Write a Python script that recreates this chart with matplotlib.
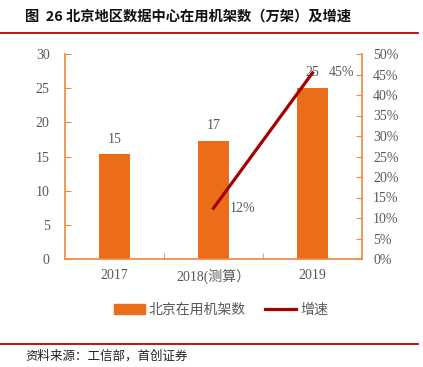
import matplotlib.pyplot as plt
from matplotlib.lines import Line2D
from matplotlib.patches import Patch

# data
years = ["2017", "2018(测算）", "2019"]
racks = [15.3, 17.3, 25.0]
rack_labels = ["15", "17", "25"]
growth = [None, 12.4, 45.4]
growth_labels = [None, "12%", "45%"]

orange = "#EC6D19"
spine = "#F0883E"
dark_red = "#A50000"
gray = "#595959"
serif = ["Liberation Serif", "Noto Sans CJK SC"]
cjk = ["Noto Sans CJK SC", "DejaVu Sans"]

fig = plt.figure(figsize=(4.23, 3.67), dpi=100)
ax = fig.add_axes([65 / 423, 1 - 259 / 367, 297 / 423, 205 / 367])
ax2 = ax.twinx()

x = list(range(len(years)))
ax.bar(x, racks, width=0.31, color=orange, zorder=2)
for xi, v, lab in zip(x, racks, rack_labels):
    ax.text(xi, v + 1.3, lab, ha="center", va="bottom", fontsize=10,
            color=gray, family=serif)

gx = [xi for xi, g in zip(x, growth) if g is not None]
gy = [g for g in growth if g is not None]
ax2.plot(gx, gy, color=dark_red, lw=2.3, zorder=3)
for xi, g, lab in zip(x, growth, growth_labels):
    if g is None:
        continue
    ax2.text(xi + 0.16, g, lab, ha="left", va="center", fontsize=10,
             color=gray, family=serif)

ax.set_xlim(-0.5, 2.5)
ax.set_ylim(0, 30)
ax2.set_ylim(0, 50)
ax.set_yticks(range(0, 31, 5))
ax2.set_yticks(range(0, 51, 5))
ax2.set_yticklabels([f"{t}%" for t in range(0, 51, 5)])
ax.set_xticks(x)
ax.set_xticklabels(years)
ax.set_xticks([0.5, 1.5], minor=True)

for a in (ax, ax2):
    for s in a.spines.values():
        s.set_visible(False)
    a.tick_params(colors=spine, labelcolor=gray, labelsize=10)
    for lab in a.get_yticklabels():
        lab.set_family(serif)
ax.spines["left"].set_visible(True)
ax.spines["bottom"].set_visible(True)
ax2.spines["right"].set_visible(True)
for s in (ax.spines["left"], ax.spines["bottom"], ax2.spines["right"]):
    s.set_color(spine)
    s.set_linewidth(1.2)

ax.tick_params(axis="y", direction="in", length=4, pad=11)
ax2.tick_params(axis="y", direction="in", length=4, pad=8)
ax.tick_params(axis="x", which="major", length=0, pad=7)
ax.tick_params(axis="x", which="minor", direction="in", length=4, color=spine)
for lab in ax.get_xticklabels():
    lab.set_family(serif)

# legend
handles = [Patch(color=orange, label="北京在用机架数"),
           Line2D([0], [0], color=dark_red, lw=2.3, label="增速")]
fig.legend(handles=handles, loc="center", bbox_to_anchor=(221 / 423, 1 - 310 / 367),
           ncol=2, frameon=False, prop={"family": cjk, "size": 10},
           labelcolor=gray, handlelength=2.2, columnspacing=1.4,
           handletextpad=0.3)

# title, rules and source
fig.text(25 / 423, 1 - 17 / 367, "图  26 北京地区数据中心在用机架数（万架）及增速",
         fontsize=10.3, family=cjk, weight="bold", color="#111111", va="center")
fig.add_artist(Line2D([0, 418 / 423], [1 - 33 / 367] * 2, color="#C00000", lw=1.3))
fig.add_artist(Line2D([0, 418 / 423], [1 - 344 / 367] * 2, color="#C00000", lw=1.3))
fig.text(25 / 423, 1 - 356 / 367, "资料来源：工信部，首创证券", fontsize=9,
         family=cjk, style="italic", color="#222222", va="center")

fig.savefig("out.png", dpi=100)
